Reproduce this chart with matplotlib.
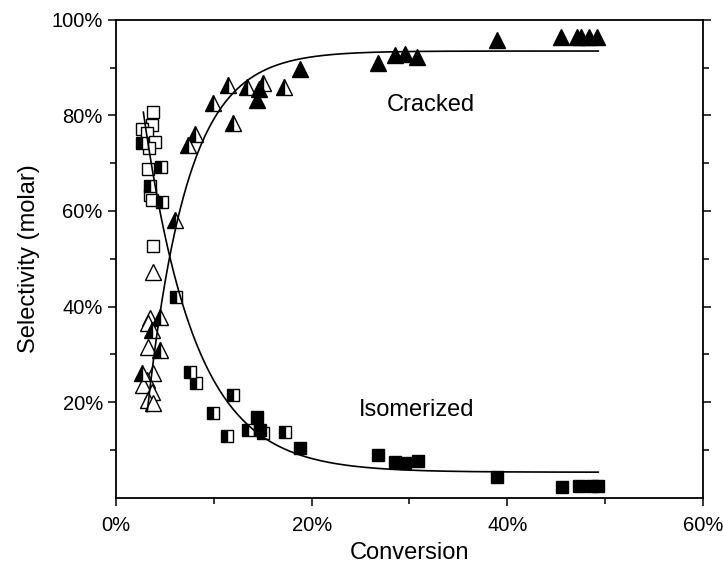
import numpy as np
import matplotlib
matplotlib.use("Agg")
import matplotlib.pyplot as plt
from matplotlib.ticker import FixedLocator, PercentFormatter

plt.rcParams['font.family'] = ['Liberation Sans', 'DejaVu Sans']

# conversion (%) / selectivity (%) for each run set
open_sq_x = [3.8, 3.7, 2.7, 3.2, 4.0, 3.4, 3.3, 3.5, 3.7, 3.8]
open_sq_y = [80.7, 78.0, 77.2, 76.3, 74.5, 73.2, 68.8, 63.4, 62.3, 52.7]

half_sq_x = [2.7, 4.6, 3.5, 4.7, 6.1, 7.6, 8.2, 12.0, 9.9, 11.4, 13.5, 15.0, 17.3]
half_sq_y = [74.2, 69.2, 65.2, 61.9, 42.0, 26.3, 24.0, 21.5, 17.7, 12.9, 14.1, 13.5, 13.7]

full_sq_x = [14.4, 14.7, 18.8, 26.8, 28.5, 29.5, 30.9, 38.9, 45.6, 47.3, 48.7, 49.3]
full_sq_y = [16.9, 14.1, 10.4, 8.9, 7.4, 7.2, 7.6, 4.3, 2.2, 2.4, 2.4, 2.4]

open_tri_x = [3.8, 3.5, 3.3, 3.3, 3.8, 3.2, 2.8, 3.7, 3.3, 3.8]
open_tri_y = [47.2, 37.5, 36.5, 31.5, 26.0, 24.6, 23.6, 22.1, 20.4, 19.7]

half_tri_x = [2.7, 3.7, 4.5, 4.5, 6.0, 7.4, 8.1, 9.9, 12.0, 11.5, 13.4, 15.0, 17.2]
half_tri_y = [26.1, 35.1, 30.9, 37.8, 58.1, 73.8, 76.2, 82.6, 78.4, 86.4, 86.0, 86.8, 86.0]

full_tri_x = [14.4, 14.6, 18.8, 26.8, 28.5, 29.5, 30.8, 38.9, 45.5, 47.1, 47.5, 48.4, 49.2]
full_tri_y = [83.2, 85.5, 89.7, 91.0, 92.7, 92.9, 92.3, 95.8, 96.4, 96.4, 96.4, 96.4, 96.4]

# first-order fits: y = y_inf + (y0 - y_inf) * exp(-k (x - x0))
cracked_fit = dict(x0=3.2, y0=18.0, y_inf=93.5, k=0.245, x_end=49.3)
isomer_fit = dict(x0=2.8, y0=80.7, y_inf=5.3, k=0.19, x_end=49.3)


def fit_curve(p):
    x = np.linspace(p['x0'], p['x_end'], 300)
    y = p['y_inf'] + (p['y0'] - p['y_inf']) * np.exp(-p['k'] * (x - p['x0']))
    return x / 100, y / 100


def pct(v):
    return np.array(v) / 100


fig = plt.figure(figsize=(7.23, 5.71), dpi=100)
ax = fig.add_axes([0.1604, 0.1287, 0.8119, 0.8363])

sq = dict(marker='s', ms=8, ls='none', mec='black', mew=1.0, zorder=3)
tri = dict(marker='^', ms=11, ls='none', mec='black', mew=1.0, zorder=3)

ax.plot(pct(open_sq_x), pct(open_sq_y), mfc='white', **sq)
ax.plot(pct(half_sq_x), pct(half_sq_y), fillstyle='left', mfc='black',
        markerfacecoloralt='white', **sq)
ax.plot(pct(full_sq_x), pct(full_sq_y), mfc='black', **sq)

ax.plot(pct(open_tri_x), pct(open_tri_y), mfc='white', **tri)
ax.plot(pct(half_tri_x), pct(half_tri_y), fillstyle='left', mfc='black',
        markerfacecoloralt='white', **tri)
ax.plot(pct(full_tri_x), pct(full_tri_y), mfc='black', **tri)

for p in (cracked_fit, isomer_fit):
    cx, cy = fit_curve(p)
    ax.plot(cx, cy, color='black', lw=1.2, zorder=4)

ax.text(0.322, 0.822, 'Cracked', fontsize=17, ha='center', va='center')
ax.text(0.307, 0.183, 'Isomerized', fontsize=17, ha='center', va='center')

ax.set_xlim(0, 0.6)
ax.set_ylim(0, 1.0)
ax.xaxis.set_major_locator(FixedLocator([0, 0.2, 0.4, 0.6]))
ax.xaxis.set_minor_locator(FixedLocator([0.1, 0.3, 0.5]))
ax.yaxis.set_major_locator(FixedLocator([0.2, 0.4, 0.6, 0.8, 1.0]))
ax.yaxis.set_minor_locator(FixedLocator([0.1, 0.3, 0.5, 0.7, 0.9]))
ax.xaxis.set_major_formatter(PercentFormatter(1.0, decimals=0))
ax.yaxis.set_major_formatter(PercentFormatter(1.0, decimals=0))

ax.tick_params(which='both', direction='out', width=1.1, labelsize=14.5,
               right=True, top=False)
ax.tick_params(which='major', length=6)
ax.tick_params(which='minor', length=4)
ax.tick_params(axis='x', pad=7)
for s in ax.spines.values():
    s.set_linewidth(1.3)

ax.set_xlabel('Conversion', fontsize=17, labelpad=5)
ax.set_ylabel('Selectivity (molar)', fontsize=17, labelpad=8)

fig.savefig('out.png', dpi=100)
